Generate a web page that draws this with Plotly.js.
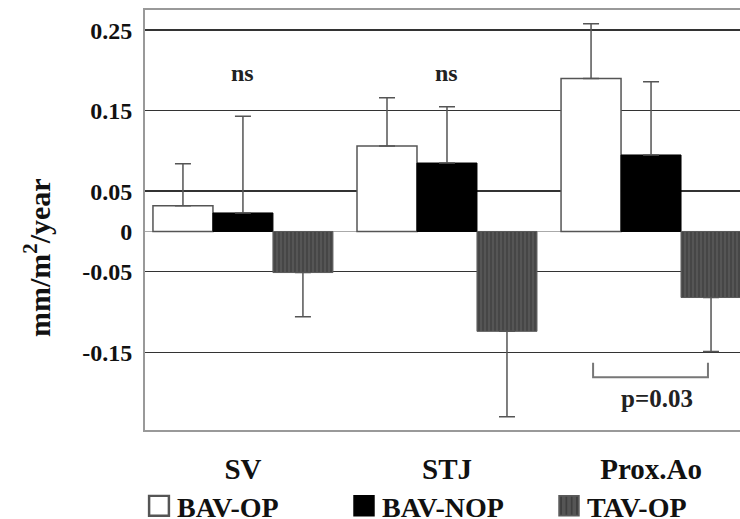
<!DOCTYPE html>
<html>
<head>
<meta charset="utf-8">
<script src="https://cdn.plot.ly/plotly-3.0.1.min.js"></script>
<style>html,body{margin:0;padding:0;background:#fff;}#chart{width:740px;height:519px;}</style>
</head>
<body>
<div id="chart"></div>
<script>
// ---- data ----
var categories = ["SV", "STJ", "Prox.Ao"];
var seriesNames = ["BAV-OP", "BAV-NOP", "TAV-OP"];
var bavOp = [0.032, 0.106, 0.190];
var bavOpErr = [0.052, 0.060, 0.068];
var bavNop = [0.023, 0.085, 0.095];
var bavNopErr = [0.120, 0.070, 0.091];
var tavOp = [-0.051, -0.124, -0.082];
var tavOpErr = [0.055, 0.106, 0.067];
var yTickVals = [0.25, 0.15, 0.05, 0, -0.05, -0.15];
var yTickText = ["0.25", "0.15", "0.05", "0", "-0.05", "-0.15"];
var nsLabels = ["ns", "ns"];
var nsCats = ["SV", "STJ"];
var pText = "p=0.03";

var serif = 'Liberation Serif, Times New Roman, serif';

function errObj(vals, errs) {
  return {
    type: 'data', symmetric: false,
    array: vals.map(function (v, i) { return v >= 0 ? errs[i] : 0; }),
    arrayminus: vals.map(function (v, i) { return v < 0 ? errs[i] : 0; }),
    color: '#555', thickness: 1.5, width: 8
  };
}

var traces = [
  {type: 'bar', name: seriesNames[0], x: categories, y: bavOp,
   marker: {color: '#ffffff', line: {color: '#555', width: 1.5}},
   error_y: errObj(bavOp, bavOpErr)},
  {type: 'bar', name: seriesNames[1], x: categories, y: bavNop,
   marker: {color: '#000000', line: {color: '#000', width: 1}},
   error_y: errObj(bavNop, bavNopErr)},
  {type: 'bar', name: seriesNames[2], x: categories, y: tavOp,
   marker: {color: '#4f4f4f', line: {color: '#5a5a5a', width: 1},
            pattern: {shape: '|', fgcolor: '#3c3c3c', bgcolor: '#555555', size: 4, solidity: 0.3}},
   error_y: errObj(tavOp, tavOpErr)}
];

var annotations = [];
nsCats.forEach(function (c, i) {
  annotations.push({x: c, y: 0.197, xref: 'x', yref: 'y', text: '<b>' + nsLabels[i] + '</b>', showarrow: false,
    font: {family: serif, size: 24, color: '#222'}});
});
annotations.push({x: 2.03, y: -0.207, xref: 'x', yref: 'y', text: '<b>' + pText + '</b>', showarrow: false,
  font: {family: serif, size: 25, color: '#222'}});
annotations.push({x: -0.181, y: 0.41, xref: 'paper', yref: 'paper', text: '<b>mm/m<sup>2</sup>/year</b>',
  textangle: -90, showarrow: false, xanchor: 'center', yanchor: 'middle',
  font: {family: serif, size: 30, color: '#111'}});

var layout = {
  width: 740, height: 519,
  margin: {l: 145, r: 0, t: 10, b: 89, pad: 0},
  paper_bgcolor: '#fff', plot_bgcolor: '#fff',
  barmode: 'group', bargap: 0.118, bargroupgap: 0,
  showlegend: true,
  legend: {orientation: 'h', x: -0.01, y: -0.024, xanchor: 'left', yanchor: 'top',
           bgcolor: 'rgba(0,0,0,0)',
           entrywidth: 160, entrywidthmode: 'pixels', traceorder: 'normal',
           font: {family: serif, size: 28, weight: 'bold', color: '#111'}},
  xaxis: {type: 'category', range: [-0.48, 2.436], showgrid: false, zeroline: false,
          showline: true, mirror: true, linecolor: '#999', linewidth: 2, ticks: '',
          ticklabelstandoff: 12,
          tickfont: {family: serif, size: 29, weight: 'bold', color: '#111'}},
  yaxis: {range: [-0.2465, 0.275], tickmode: 'array', tickvals: yTickVals, ticktext: yTickText,
          showgrid: true, gridcolor: '#333', gridwidth: 1.5,
          zeroline: true, zerolinecolor: '#aaa', zerolinewidth: 1.5,
          showline: true, mirror: true, linecolor: '#999', linewidth: 2, ticks: '',
          ticklabelstandoff: 6,
          tickfont: {family: serif, size: 24, weight: 'bold', color: '#111'}},
  shapes: [{type: 'path', xref: 'x', yref: 'y', path: 'M1.716,-0.163 L1.716,-0.181 L2.279,-0.181 L2.279,-0.163',
            line: {color: '#777', width: 2}}],
  annotations: annotations
};

Plotly.newPlot('chart', traces, layout, {staticPlot: true, displayModeBar: false}).then(function () {
  document.querySelectorAll('.legend .legendpoints path').forEach(function (p) {
    p.setAttribute('transform', 'translate(22,0) scale(1.65)');
  });
  var lg = document.querySelector('.legend');
  if (lg) {
    var t = lg.getAttribute('transform') || '';
    var m = /translate\(\s*([-\d.e]+)[ ,]+([-\d.e]+)\s*\)/.exec(t);
    if (m) lg.setAttribute('transform', 'translate(' + (parseFloat(m[1]) + 12) + ',' + (parseFloat(m[2]) + 41) + ')');
  }
});
</script>
</body>
</html>
